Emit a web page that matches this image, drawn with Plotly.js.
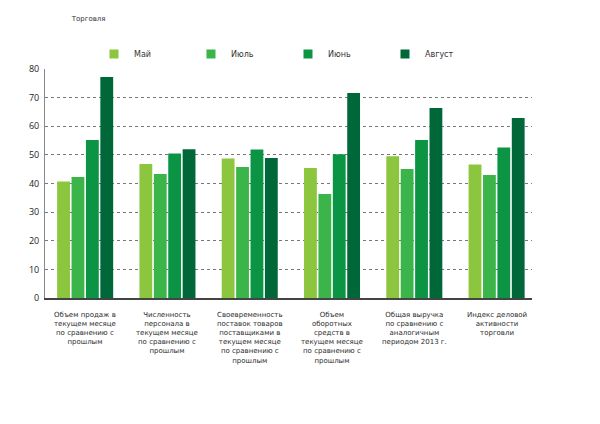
<!DOCTYPE html>
<html>
<head>
<meta charset="utf-8">
<script src="https://cdn.plot.ly/plotly-3.0.1.min.js"></script>
<style>
  html, body { margin: 0; padding: 0; background: #fff; }
  #chart { width: 600px; height: 424px; }
</style>
</head>
<body>
<div id="chart"></div>
<script>
// Категории (подписи по строкам)
const categories = [
  ["Объем продаж в", "текущем месяце", "по сравнению с", "прошлым"],
  ["Численность", "персонала в", "текущем месяце", "по сравнению с", "прошлым"],
  ["Своевременность", "поставок товаров", "поставщиками в", "текущем месяце", "по сравнению с", "прошлым"],
  ["Объем", "оборотных", "средств в", "текущем месяце", "по сравнению с", "прошлым"],
  ["Общая выручка", "по сравнению с", "аналогичным", "периодом 2013 г."],
  ["Индекс деловой", "активности", "торговли"]
];

const seriesNames = ["Май", "Июль", "Июнь", "Август"];
const seriesColors = ["#8cc63f", "#3bb54a", "#0a9444", "#006838"];

const may    = [40.7, 46.8, 48.7, 45.4, 49.5, 46.6];
const july   = [42.3, 43.3, 45.8, 36.3, 45.1, 43.0];
const june   = [55.2, 50.5, 51.9, 50.2, 55.2, 52.6];
const august = [77.2, 52.0, 48.9, 71.6, 66.4, 62.9];

const seriesValues = [may, july, june, august];
const yTicks = [0, 10, 20, 30, 40, 50, 60, 70, 80];

const xIdx = categories.map((_, i) => i);
const FONT = "Open Sans, Noto Sans, sans-serif";
const LABEL_FONT = "DejaVu Sans, sans-serif";

const traces = [];
seriesValues.forEach((vals, s) => {
  traces.push({
    type: "bar",
    name: seriesNames[s],
    x: xIdx,
    y: vals,
    marker: { color: seriesColors[s], line: { width: 0 } },
    showlegend: false,
    hoverinfo: "y"
  });
});
// Small square legend keys
seriesNames.forEach((name, s) => {
  traces.push({
    type: "scatter",
    mode: "markers",
    name: name,
    x: [null],
    y: [null],
    marker: { symbol: "square", size: 9, color: seriesColors[s] },
    showlegend: true,
    hoverinfo: "skip"
  });
});

// Multi-line category labels under the axis
const annotations = categories.map((lines, i) => ({
  x: i, y: 0, xref: "x", yref: "y",
  text: lines.join("<br>"), showarrow: false,
  xanchor: "center", yanchor: "top", align: "center",
  yshift: -12, borderpad: 0,
  font: { family: LABEL_FONT, size: 7, color: "#2b2b2b" }
}));

const layout = {
  width: 600, height: 424,
  paper_bgcolor: "#fff", plot_bgcolor: "#fff",
  margin: { l: 45, r: 68, t: 69, b: 126 },
  font: { family: FONT, color: "#222" },
  title: {
    text: "Торговля",
    x: 33 / 600, xanchor: "left", xref: "paper",
    y: 1 - 19 / 424, yanchor: "middle", yref: "container",
    font: { family: LABEL_FONT, size: 7, color: "#333" }
  },
  barmode: "group",
  bargap: 0.30,
  bargroupgap: 0.11,
  xaxis: {
    type: "linear",
    range: [-0.488, 5.43],
    showticklabels: false,
    showgrid: false, zeroline: false,
    showline: true, linecolor: "#444", linewidth: 1.5,
    ticks: "", fixedrange: true
  },
  yaxis: {
    range: [0, 80],
    tickvals: yTicks,
    ticktext: yTicks.map(String),
    showgrid: true, gridcolor: "#777", griddash: "dot", gridwidth: 1,
    zeroline: false,
    showline: true, linecolor: "#888", linewidth: 1,
    ticks: "", ticklabelstandoff: 3,
    tickfont: { family: FONT, size: 9, color: "#222" },
    fixedrange: true
  },
  legend: {
    orientation: "h",
    x: 0.1006, xanchor: "left",
    y: 1.065, yanchor: "middle",
    entrywidth: 52, entrywidthmode: "pixels",
    font: { family: LABEL_FONT, size: 8, color: "#333" },
    bgcolor: "rgba(0,0,0,0)",
    itemwidth: 30
  },
  annotations: annotations,
  showlegend: true
};

Plotly.newPlot("chart", traces, layout, { displayModeBar: false, staticPlot: true });
</script>
</body>
</html>
